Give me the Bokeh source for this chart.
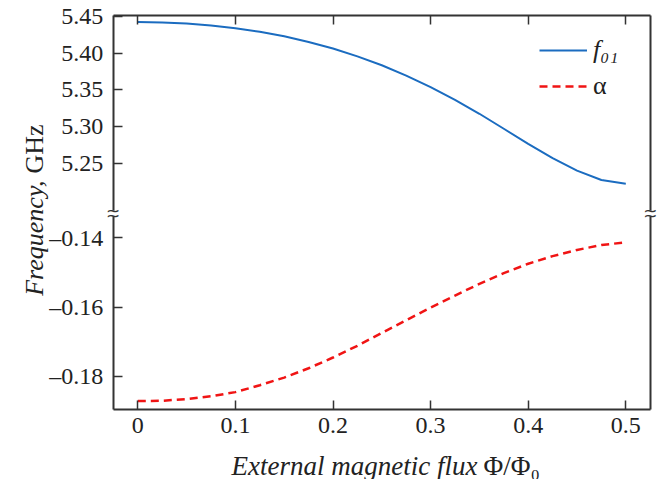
from bokeh.plotting import figure
from bokeh.models import (Range1d, LinearAxis, FixedTicker, Label, Legend, LegendItem)
from bokeh.embed import file_html
from bokeh.resources import INLINE

# ---------------- data ----------------
flux = [0.000, 0.025, 0.050, 0.075, 0.100, 0.125, 0.150, 0.175, 0.200, 0.225,
        0.250, 0.275, 0.300, 0.325, 0.350, 0.375, 0.400, 0.425, 0.450, 0.475, 0.500]
f01 = [5.4420, 5.4415, 5.4400, 5.4373, 5.4338, 5.4288, 5.4228, 5.4151, 5.4063, 5.3956,
       5.3835, 5.3695, 5.3540, 5.3365, 5.3178, 5.2975, 5.2770, 5.2576, 5.2407, 5.2281, 5.2231]
alpha = [-0.1872, -0.1871, -0.1866, -0.1858, -0.1846, -0.1826, -0.1804, -0.1777, -0.1746, -0.1712,
         -0.1675, -0.1638, -0.1602, -0.1567, -0.1533, -0.1502, -0.1475, -0.1453, -0.1435, -0.1421, -0.1413]

x_ticks = [0, 0.1, 0.2, 0.3, 0.4, 0.5]
x_tick_labels = ["0", "0.1", "0.2", "0.3", "0.4", "0.5"]
f_ticks = [5.25, 5.30, 5.35, 5.40, 5.45]
f_tick_labels = ["5.25", "5.30", "5.35", "5.40", "5.45"]
a_ticks = [-0.18, -0.16, -0.14]
a_tick_labels = ["\u20130.18", "\u20130.16", "\u20130.14"]

series_names = ["f\u2080\u2081", "\u03b1"]
x_title = ["External magnetic flux", "\u03a6/\u03a6\u2080"]
y_title = ["Frequency,", "GHz"]

# ---------------- geometry / styling ----------------
W, H = 657, 479
BLUE = "#1b6cc0"
RED = "#f01414"
AX = "#333333"
TXT = "#222222"
SERIF = "'Liberation Serif', 'Times New Roman', serif"

# visible box edges (data coordinates)
X0, X1 = -0.0252, 0.5253              # left / right edge of the box
F_TOP, F_BREAK = 5.4503, 5.1867       # upper panel: top edge, lower end at the break
A_BOT, A_BREAK = -0.18971, -0.13384   # lower panel: bottom edge, upper end at the break
X_BOTTOM_IN_F = 4.91667               # bottom edge expressed in the upper range

p = figure(width=W, height=H, output_backend="svg", toolbar_location=None,
           x_range=Range1d(-0.14068, 0.53248), y_range=Range1d(4.82222, 5.47127),
           x_axis_location=None, y_axis_location=None,
           min_border=0, min_border_left=0, min_border_right=0, min_border_top=0, min_border_bottom=0)
p.extra_y_ranges = {"lo": Range1d(-0.209855, -0.071416)}
p.grid.visible = False
p.outline_line_color = None
p.background_fill_color = "white"
p.border_fill_color = "white"


def make_axis(ticks, labels, standoff, **kw):
    ax = LinearAxis(**kw)
    ax.ticker = FixedTicker(ticks=ticks, minor_ticks=[])
    ax.major_label_overrides = dict(zip(ticks, labels))
    ax.major_tick_in = 9 if ticks else 0
    ax.major_tick_out = 0
    ax.minor_tick_in = 0
    ax.minor_tick_out = 0
    ax.major_tick_line_color = AX
    ax.major_tick_line_width = 1.5
    ax.axis_line_color = AX
    ax.axis_line_width = 2
    ax.major_label_text_font = SERIF
    ax.major_label_text_font_size = "24px"
    ax.major_label_text_color = TXT
    ax.major_label_standoff = standoff
    return ax


# bottom x axis
p.add_layout(make_axis(x_ticks, x_tick_labels, 8, fixed_location=X_BOTTOM_IN_F, bounds=(X0, X1)), "below")
# top edge: ticks only
p.add_layout(make_axis(x_ticks, ["" for _ in x_ticks], 4, fixed_location=F_TOP, bounds=(X0, X1)), "above")
# left edge, upper (f01) part
p.add_layout(make_axis(f_ticks, f_tick_labels, 10, fixed_location=X0, bounds=(F_BREAK, F_TOP)), "left")
# left edge, lower (alpha) part
p.add_layout(make_axis(a_ticks, a_tick_labels, 10, y_range_name="lo", fixed_location=X0,
                       bounds=(A_BOT, A_BREAK)), "left")
# right edge, both parts, no ticks
p.add_layout(make_axis([], [], 4, fixed_location=X1, bounds=(F_BREAK, F_TOP)), "right")
p.add_layout(make_axis([], [], 4, y_range_name="lo", fixed_location=X1, bounds=(A_BOT, A_BREAK)), "right")

r_f = p.line(flux, f01, line_color=BLUE, line_width=2)
r_a = p.line(flux, alpha, y_range_name="lo", line_color=RED, line_width=2.5, line_dash="8 5")

leg_kw = dict(border_line_color=None, background_fill_alpha=0, padding=0, margin=0, spacing=0,
              glyph_width=48, glyph_height=26, label_height=26, label_standoff=6,
              label_text_font=SERIF, label_text_font_size="26px", label_text_color=TXT)
leg_f = Legend(items=[LegendItem(label=series_names[0], renderers=[r_f])],
               location=(539, 414), label_text_font_style="italic", **leg_kw)
leg_a = Legend(items=[LegendItem(label=series_names[1], renderers=[r_a])],
               location=(539, 378), label_text_font_style="normal", **leg_kw)
p.add_layout(leg_f)
p.add_layout(leg_a)

# axis break marks: a wave at each end of the gap, on both sides
for bx in (X0, X1):
    p.add_layout(Label(x=bx, y=F_BREAK, text="~", text_align="center", text_baseline="middle",
                       text_font="DejaVu Sans", text_font_size="17px", text_color=AX))
    p.add_layout(Label(x=bx, y=A_BREAK, y_range_name="lo", text="~", text_align="center",
                       text_baseline="middle", text_font="DejaVu Sans", text_font_size="17px",
                       text_color=AX))

# axis titles (italic words, roman symbols/units)
p.add_layout(Label(x=477, y=14, x_units="screen", y_units="screen", text=x_title[0],
                   text_align="right", text_baseline="alphabetic", text_font=SERIF,
                   text_font_size="27px", text_font_style="italic", text_color=TXT))
p.add_layout(Label(x=483, y=14, x_units="screen", y_units="screen", text=x_title[1],
                   text_align="left", text_baseline="alphabetic", text_font=SERIF,
                   text_font_size="27px", text_color=TXT))
p.add_layout(Label(x=33.5, y=299, x_units="screen", y_units="screen", text=y_title[0],
                   angle=90, angle_units="deg", text_align="right", text_baseline="alphabetic",
                   text_font=SERIF, text_font_size="26px", text_font_style="italic", text_color=TXT))
p.add_layout(Label(x=33.5, y=306, x_units="screen", y_units="screen", text=y_title[1],
                   angle=90, angle_units="deg", text_align="left", text_baseline="alphabetic",
                   text_font=SERIF, text_font_size="26px", text_color=TXT))

open("out.html", "w").write(file_html(p, INLINE))
